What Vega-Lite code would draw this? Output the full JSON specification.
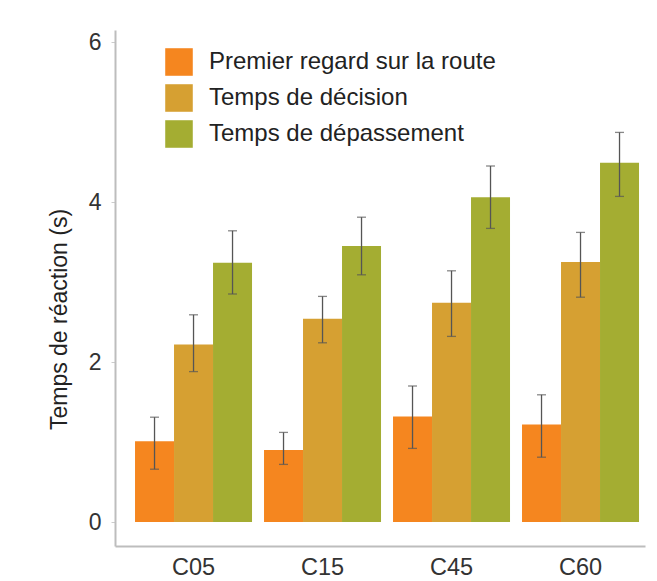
{
  "$schema": "https://vega.github.io/schema/vega-lite/v6.json",
  "width": 530,
  "height": 516,
  "autosize": "none",
  "padding": {"left": 115, "top": 30, "right": 12, "bottom": 35},
  "background": "#ffffff",
  "config": {
    "font": "Liberation Sans",
    "view": {"stroke": null},
    "axis": {"labelFont": "Liberation Sans", "titleFont": "Liberation Sans"}
  },
  "data": {
    "values": [
      {"cond": "C05", "measure": "Premier regard sur la route", "mean": 1.01, "lo": 0.66, "hi": 1.31},
      {"cond": "C05", "measure": "Temps de décision", "mean": 2.22, "lo": 1.88, "hi": 2.59},
      {"cond": "C05", "measure": "Temps de dépassement", "mean": 3.24, "lo": 2.85, "hi": 3.64},
      {"cond": "C15", "measure": "Premier regard sur la route", "mean": 0.9, "lo": 0.72, "hi": 1.12},
      {"cond": "C15", "measure": "Temps de décision", "mean": 2.54, "lo": 2.24, "hi": 2.82},
      {"cond": "C15", "measure": "Temps de dépassement", "mean": 3.45, "lo": 3.09, "hi": 3.81},
      {"cond": "C45", "measure": "Premier regard sur la route", "mean": 1.32, "lo": 0.92, "hi": 1.7},
      {"cond": "C45", "measure": "Temps de décision", "mean": 2.74, "lo": 2.32, "hi": 3.14},
      {"cond": "C45", "measure": "Temps de dépassement", "mean": 4.06, "lo": 3.67, "hi": 4.45},
      {"cond": "C60", "measure": "Premier regard sur la route", "mean": 1.22, "lo": 0.81, "hi": 1.59},
      {"cond": "C60", "measure": "Temps de décision", "mean": 3.25, "lo": 2.81, "hi": 3.62},
      {"cond": "C60", "measure": "Temps de dépassement", "mean": 4.49, "lo": 4.07, "hi": 4.87}
    ]
  },
  "encoding": {
    "x": {
      "field": "cond", "type": "nominal", "sort": ["C05", "C15", "C45", "C60"],
      "scale": {"paddingInner": 0.093, "paddingOuter": 0.1008, "align": 0.77},
      "axis": {
        "title": null, "labelAngle": 0, "labelFontSize": 23.5, "labelColor": "#333333",
        "ticks": false, "labelPadding": 9, "domainColor": "#bdbdbd", "domainWidth": 2
      }
    },
    "xOffset": {
      "field": "measure", "type": "nominal",
      "sort": ["Premier regard sur la route", "Temps de décision", "Temps de dépassement"],
      "scale": {"paddingInner": 0, "paddingOuter": 0}
    }
  },
  "layer": [
    {
      "mark": {"type": "bar"},
      "encoding": {
        "y": {
          "field": "mean", "type": "quantitative",
          "scale": {"domain": [-0.3, 6.15], "nice": false, "zero": false},
          "axis": {
            "title": "Temps de réaction (s)", "titleFontSize": 23, "titleFontWeight": "normal",
            "titleColor": "#222222", "titlePadding": 17, "titleY": 289,
            "values": [0, 2, 4, 6], "format": "d", "labelFontSize": 23, "labelColor": "#333333",
            "grid": false, "tickSize": 4, "tickColor": "#cccccc", "labelPadding": 10,
            "domainColor": "#bdbdbd", "domainWidth": 2
          }
        },
        "color": {
          "field": "measure", "type": "nominal",
          "scale": {
            "domain": ["Premier regard sur la route", "Temps de décision", "Temps de dépassement"],
            "range": ["#f5861f", "#d6a032", "#a4ad32"]
          },
          "legend": {
            "title": null, "orient": "none", "legendX": 50, "legendY": 18,
            "symbolType": "square", "symbolSize": 760, "symbolStrokeWidth": 0,
            "symbolOpacity": 1, "labelFontSize": 24, "labelColor": "#222222",
            "labelLimit": 0, "labelOffset": 16, "rowPadding": 8, "padding": 0
          }
        }
      }
    },
    {
      "mark": {"type": "rule", "color": "#555555", "strokeWidth": 1.3},
      "encoding": {
        "y": {"field": "lo", "type": "quantitative"},
        "y2": {"field": "hi"}
      }
    },
    {
      "mark": {"type": "tick", "color": "#555555", "thickness": 1.3, "size": 9},
      "encoding": {"y": {"field": "hi", "type": "quantitative"}}
    },
    {
      "mark": {"type": "tick", "color": "#555555", "thickness": 1.3, "size": 9},
      "encoding": {"y": {"field": "lo", "type": "quantitative"}}
    }
  ]
}
